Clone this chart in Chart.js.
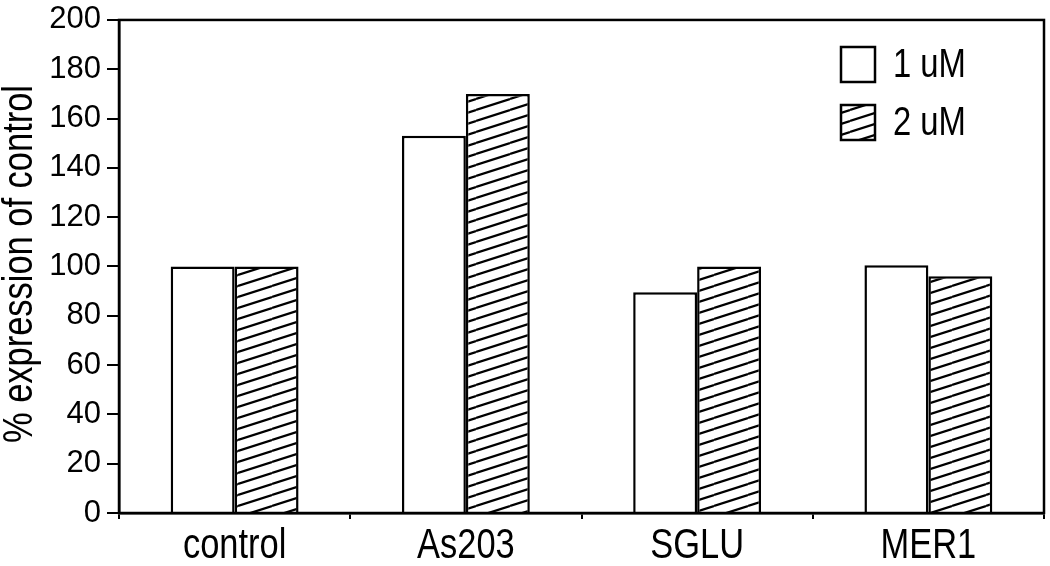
<!DOCTYPE html>
<html>
<head>
<meta charset="utf-8">
<script src="https://cdn.jsdelivr.net/npm/chart.js@4"></script>
<style>
  html, body { margin: 0; padding: 0; background: #fff; }
  #wrap { width: 1050px; height: 566px; }
</style>
</head>
<body>
<div id="wrap"><canvas id="grafico" width="1050" height="566"></canvas></div>
<script>
const categorias = ['control', 'As203', 'SGLU', 'MER1'];
const serie1uM = [100, 153, 89.5, 100.5];
const serie2uM = [100, 170, 100, 96];
const etiquetas = ['1 uM', '2 uM'];
const ticksY = [0, 20, 40, 60, 80, 100, 120, 140, 160, 180, 200];
const tituloY = '% expression of control';

const fuente = "'Liberation Sans', Arial, sans-serif";
const estrecho = 0.82; // la fuente original es condensada

// patrón de rayas diagonales
function crearRayado(w, h, grosor) {
  const c = document.createElement('canvas');
  c.width = w; c.height = h;
  const g = c.getContext('2d');
  g.fillStyle = '#fff';
  g.fillRect(0, 0, w, h);
  g.strokeStyle = '#000';
  g.lineWidth = grosor;
  for (let k = -1; k <= 1; k++) {
    g.beginPath();
    g.moveTo(0, h + k * h);
    g.lineTo(w, k * h);
    g.stroke();
  }
  return g.createPattern(c, 'repeat');
}
const rayado = crearRayado(34, 11, 2.2);

// texto condensado: escala horizontal
function textoEstrecho(ctx, txt, x, y, tam, alinear) {
  ctx.save();
  ctx.translate(x, y);
  ctx.scale(estrecho, 1);
  ctx.font = tam + 'px ' + fuente;
  ctx.textAlign = alinear;
  ctx.textBaseline = 'alphabetic';
  ctx.fillStyle = '#000';
  ctx.fillText(txt, 0, 0);
  ctx.restore();
}

// marco completo alrededor del área
const marco = {
  id: 'marco',
  afterDatasetsDraw(chart) {
    const { ctx, chartArea: a } = chart;
    ctx.save();
    ctx.strokeStyle = '#000';
    ctx.lineWidth = 2.5;
    ctx.strokeRect(a.left, a.top, a.right - a.left, a.bottom - a.top);
    ctx.restore();
  }
};

// leyenda, etiquetas de categoría y título del eje
const extras = {
  id: 'extras',
  afterDraw(chart) {
    const ctx = chart.ctx;
    const fondos = ['#fff', rayado];
    const ys = [47, 105];
    etiquetas.forEach((txt, i) => {
      ctx.save();
      ctx.fillStyle = fondos[i];
      ctx.fillRect(841, ys[i], 34, 35);
      ctx.strokeStyle = '#000';
      ctx.lineWidth = 2.5;
      ctx.strokeRect(841, ys[i], 34, 35);
      ctx.restore();
      textoEstrecho(ctx, txt, 893, ys[i] + 30, 40, 'left');
    });

    const x = chart.scales.x;
    categorias.forEach((c, i) => {
      textoEstrecho(ctx, c, x.getPixelForValue(i), 558, 42, 'center');
    });

    ctx.save();
    ctx.translate(32, 264);
    ctx.rotate(-Math.PI / 2);
    textoEstrecho(ctx, tituloY, 0, 0, 42, 'center');
    ctx.restore();
  }
};

new Chart(document.getElementById('grafico'), {
  type: 'bar',
  data: {
    labels: categorias,
    datasets: [
      {
        label: etiquetas[0],
        data: serie1uM,
        backgroundColor: '#fff',
        borderColor: '#000',
        borderWidth: 2.5,
        barPercentage: 1,
        categoryPercentage: 0.553
      },
      {
        label: etiquetas[1],
        data: serie2uM,
        backgroundColor: rayado,
        borderColor: '#000',
        borderWidth: 2.5,
        barPercentage: 1,
        categoryPercentage: 0.553
      }
    ]
  },
  options: {
    responsive: false,
    animation: false,
    layout: { padding: { top: 17, right: 6, left: 0, bottom: 0 } },
    plugins: {
      legend: { display: false },
      tooltip: { enabled: false }
    },
    scales: {
      x: {
        grid: { drawOnChartArea: false, drawTicks: true, tickLength: 6, color: '#000', lineWidth: 2, offset: true },
        border: { display: true, color: '#000', width: 2.5 },
        ticks: { display: false },
        afterFit(scale) { scale.height = 53; }
      },
      y: {
        min: 0,
        max: 200,
        afterBuildTicks(scale) { scale.ticks = ticksY.map(v => ({ value: v })); },
        grid: { drawOnChartArea: false, drawTicks: true, tickLength: 12, color: '#000', lineWidth: 2 },
        border: { display: true, color: '#000', width: 2.5 },
        ticks: { color: '#000', font: { family: fuente, size: 31, lineHeight: 0.9 }, padding: 6 },
        afterFit(scale) { scale.width = 119; }
      }
    }
  },
  plugins: [marco, extras]
});
</script>
</body>
</html>
